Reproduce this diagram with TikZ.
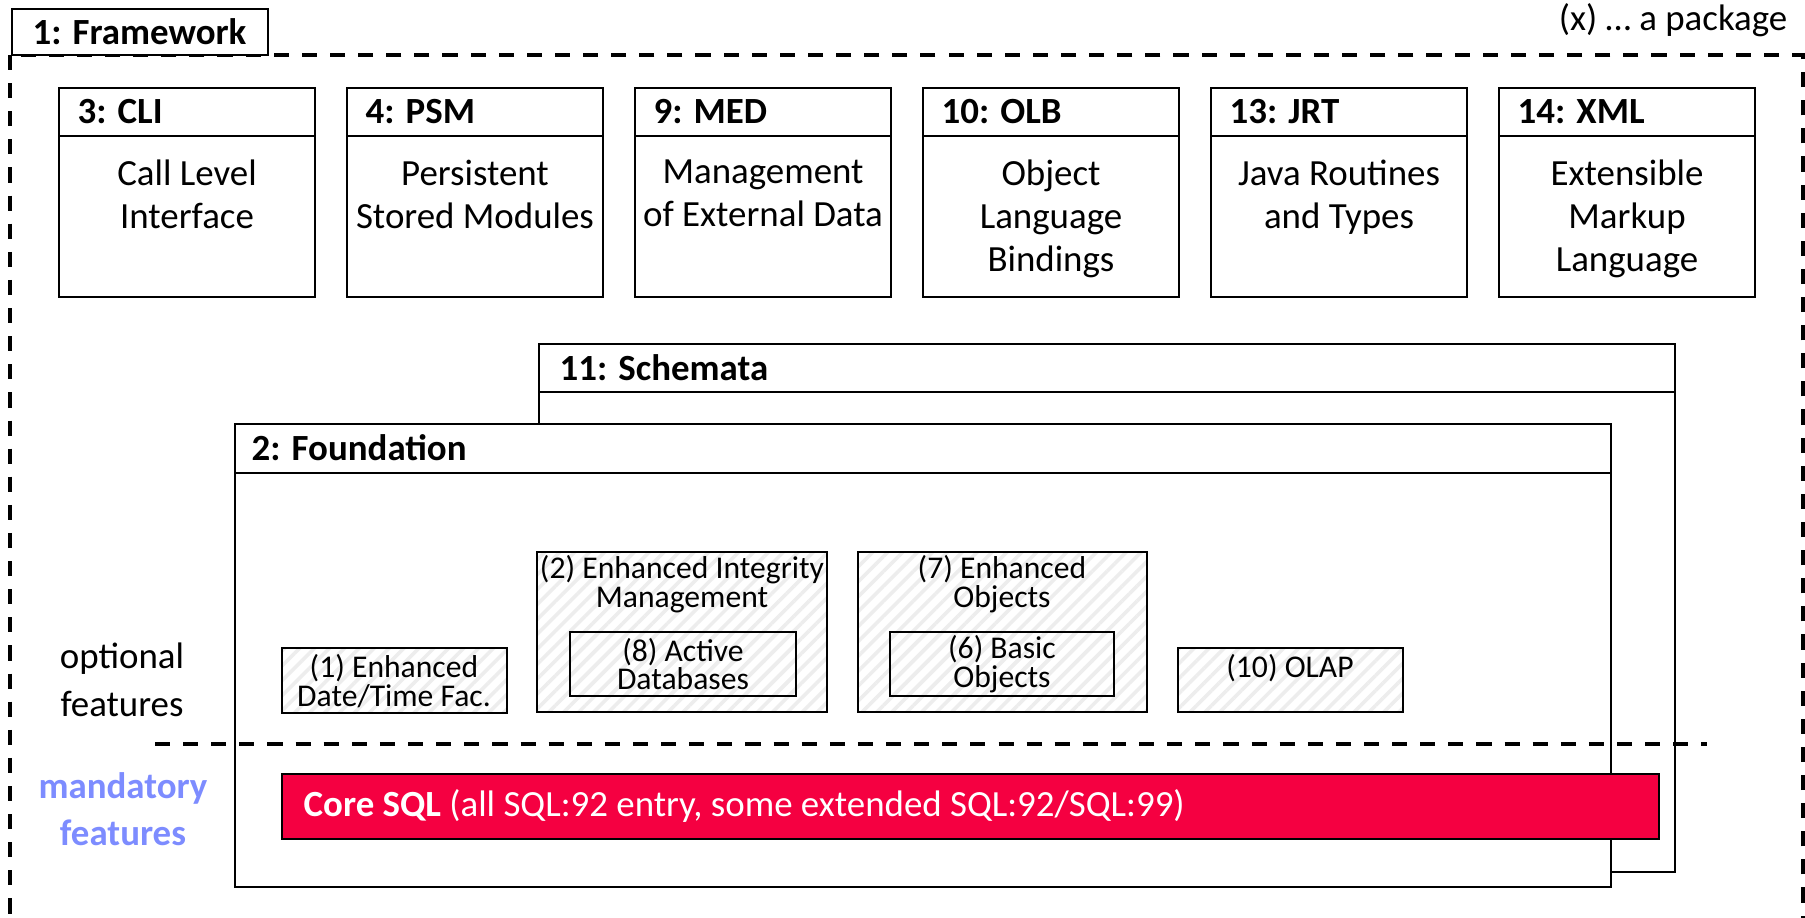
\documentclass[tikz,border=0pt]{standalone}
\usepackage{fontspec}
\setmainfont{Carlito}
\usetikzlibrary{patterns.meta}

\definecolor{coresql}{RGB}{245,0,65}
\definecolor{mandblue}{RGB}{125,140,255}

\tikzset{
  pkg/.style={draw,line width=0.8pt},
  pkgtitle/.style={anchor=west,inner sep=0pt,font=\bfseries\fontsize{10.5}{12.5}\selectfont},
  pkgtext/.style={anchor=north,align=center,inner sep=0pt,font=\fontsize{10.5}{12.3}\selectfont},
  feat/.style={draw,line width=0.8pt,pattern={Lines[angle=45,distance=3pt,line width=1pt]},pattern color=black!7},
  feattext/.style={align=center,inner sep=0pt,font=\fontsize{9}{8.2}\selectfont},
  sepline/.style={dash pattern=on 4.3pt off 3.7pt,line width=1.1pt},
}

\begin{document}
\begin{tikzpicture}[x=0.1mm,y=-0.1mm]
  \useasboundingbox (0,0) rectangle (1805,918);
  % framework
  \draw[sepline] (10,55) rectangle (1803,960);
  \draw[pkg,fill=white] (12,9) rectangle (268,55);
  \node[pkgtitle] (framework) at (32,32) {1: Framework};
  \node[anchor=base east,inner sep=0pt,font=\fontsize{10.5}{12.5}\selectfont] (legend) at (1788,31) {(x) \dots{} a package};
  % packages on top
  \foreach \i/\id/\ttl/\txt in {0/cli/3: CLI/Call Level\\Interface,
      1/psm/4: PSM/Persistent\\Stored Modules,
      2/med/9: MED/Management\\of External Data,
      3/olb/10: OLB/Object\\Language\\Bindings,
      4/jrt/13: JRT/Java Routines\\and Types,
      5/xml/14: XML/Extensible\\Markup\\Language} {
    \draw[pkg] ({59+288*\i},88) rectangle ++(256,209);
    \draw[pkg] ({59+288*\i},136) -- ++(256,0);
    \node[pkgtitle] (\id-title) at ({77+288*\i},112) {\ttl};
    \node[pkgtext] (\id) at ({187+288*\i},159) {\txt};
  }
  % schemata and foundation
  \draw[pkg,fill=white] (539,344) rectangle (1675,872);
  \draw[pkg] (539,392) -- (1675,392);
  \node[pkgtitle] (schemata) at (559,368) {11: Schemata};
  \draw[pkg,fill=white] (235,424) rectangle (1611,887);
  \draw[pkg] (235,473) -- (1611,473);
  \node[pkgtitle] (foundation) at (251,448) {2: Foundation};
  \draw[sepline] (155,744) -- (1707,744);
  \node[align=center,inner sep=0pt,font=\fontsize{10.5}{13.5}\selectfont] (optional) at (122,680) {optional\\features};
  \node[align=center,inner sep=0pt,text=mandblue,font=\bfseries\fontsize{10.5}{13.5}\selectfont] (mandatory) at (123,809) {mandatory\\features};
  % optional features
  \draw[feat] (282,648) rectangle (507,713);
  \node[feattext] (datetime) at (394,681) {(1) Enhanced\\Date/Time Fac.};
  \draw[feat] (537,552) rectangle (827,712);
  \node[feattext] (integrity) at (682,584) {(2) Enhanced Integrity\\Management};
  \draw[feat] (570,632) rectangle (796,696);
  \node[feattext] (active) at (683,664) {(8) Active\\Databases};
  \draw[feat] (858,552) rectangle (1147,712);
  \node[feattext] (enhobj) at (1002,584) {(7) Enhanced\\Objects};
  \draw[feat] (890,632) rectangle (1114,696);
  \node[feattext] (basicobj) at (1002,664) {(6) Basic\\Objects};
  \draw[feat] (1178,648) rectangle (1403,712);
  \node[feattext] (olap) at (1290,668) {(10) OLAP};
  % core
  \draw[line width=0.8pt,fill=coresql] (282,774) rectangle (1659,839);
  \node[anchor=west,inner sep=0pt,text=white,font=\fontsize{10.5}{12.5}\selectfont] (core) at (303,806) {\textbf{Core SQL} (all SQL:92 entry, some extended SQL:92/SQL:99)};
\end{tikzpicture}
\end{document}
